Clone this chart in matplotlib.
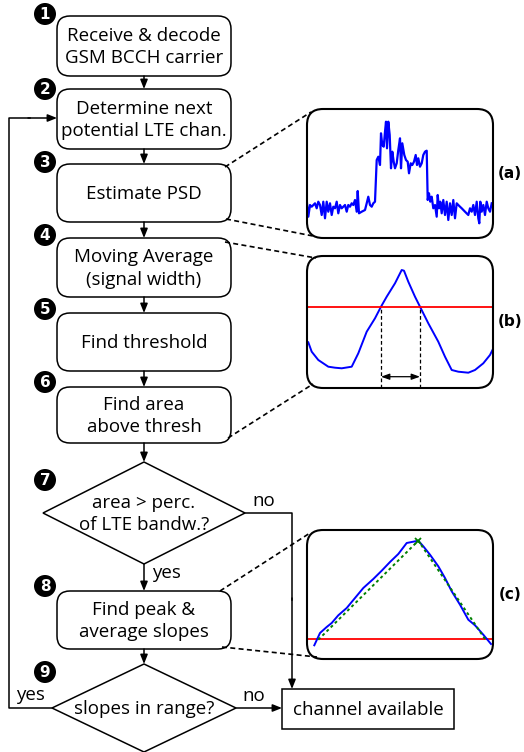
import matplotlib.pyplot as plt
from matplotlib.patches import FancyBboxPatch, Polygon, Rectangle, Circle

plt.rcParams['font.family'] = ['Open Sans', 'DejaVu Sans']

W, H = 524, 752

# flowchart steps
step_text = ["Receive & decode\nGSM BCCH carrier",
             "Determine next\npotential LTE chan.",
             "Estimate PSD",
             "Moving Average\n(signal width)",
             "Find threshold",
             "Find area\nabove thresh",
             "area > perc.\nof LTE bandw.?",
             "Find peak &\naverage slopes",
             "slopes in range?"]
step_kind = ["box", "box", "box", "box", "box", "box", "diamond", "box", "diamond"]
step_top = [16, 89, 164, 238, 313, 387, 462, 591, 664]
step_bottom = [76, 149, 222, 297, 371, 443, 564, 649, 752]
step_halfwidth = [87, 87, 87, 87, 87, 87, 101, 87, 92]
badge_y = [14, 89, 162, 235, 309, 382, 480, 586, 672]

# (a) PSD trace
psd_freq = [0, 1.3, 3, 4.7, 8, 9.7, 11.3, 13, 14.7, 16.3, 18, 19.7, 21.3, 23, 24.7,
            26.3, 28, 29.7, 31.3, 33, 34.7, 36.3, 38, 39.7, 41.3, 43, 44.7, 46.3, 48,
            49.7, 50.7, 52, 54.7, 58, 59.7, 61.3, 63, 64.7, 66.3, 68, 69.7, 71.3, 73,
            74, 75.3, 76.7, 78, 79, 80, 81.3, 82.7, 84, 85.3, 86.7, 88, 89.7, 91.3, 93,
            94, 95.3, 97.3, 99, 100.7, 102, 103.7, 105.3, 107, 108.7, 110, 111.3, 113,
            114.7, 116.3, 118, 119.7, 120.7, 122, 123.3, 124.7, 126.3, 128, 129.7,
            130.7, 132, 133.3, 134.7, 136.3, 138, 139.7, 141.3, 143, 144.7, 146.3, 148,
            149.7, 151.3, 153, 154.7, 158, 161.3, 163, 164.7, 166.3, 168, 169.7, 171.3,
            172.3, 173.3, 174.7, 176.3, 178, 179.7, 181.3, 183, 184.7]
psd_level = [34.7, 21.3, 33, 31.3, 34.7, 29.7, 36.3, 33, 23, 36.3, 19.7, 36.3, 26.3,
             34.7, 23, 31.3, 29.7, 36.3, 24.7, 33, 29.7, 31.3, 33, 26.3, 33, 31.3, 34.7,
             33, 38, 26.3, 47, 24.7, 26.3, 28, 34.7, 41.3, 33, 31.3, 34.7, 36.3, 78,
             81.3, 73, 104.7, 93, 91.3, 106.3, 116.3, 89.7, 116.3, 103, 69.7, 86.3,
             76.3, 69.7, 74.7, 88, 99.7, 69.7, 94.7, 83, 78, 76.3, 64.7, 74.7, 73, 76.3,
             83, 73, 79.7, 71.3, 74.7, 83, 86.3, 87.3, 38, 44.7, 36.3, 41.3, 29.7, 33,
             21.3, 43, 29.7, 36.3, 24.7, 38, 23, 36.3, 18, 34.7, 23, 38, 19.7, 34.7, 33,
             31.3, 29.7, 26.3, 23, 29.7, 26.3, 33, 23, 36.3, 19.7, 14.7, 36.3, 26.3, 33,
             23, 36.3, 29.7, 26.3, 34.7]

# (b) moving average with threshold crossing
ma_freq = [1.3, 4.7, 11.3, 21.3, 28, 34.7, 44.7, 51.3, 59.7, 68, 74, 79.7, 88, 94.7,
           97, 101.3, 108, 113, 121.3, 131.3, 138, 144.7, 151.3, 161.3, 168, 176.3,
           183, 186.3]
ma_level = [45.7, 36.3, 28, 21.3, 20.3, 19.7, 21.3, 34.7, 56.3, 69.7, 81.3, 91.3,
            104.7, 118, 117.3, 106.3, 91.3, 81.3, 64.7, 46.3, 31.3, 18, 16.3, 15.3, 18,
            24.7, 33, 39.7]
ma_thresh = 81.3
ma_edges = [74, 113]

# (c) peak and average slopes
pk_freq = [7.3, 13, 19.7, 24.7, 31.3, 39.7, 48, 56.3, 66.3, 74.7, 83, 91.3, 99.7,
           104.7, 111.3, 116.3, 123, 131.3, 138, 144.7, 153, 161.3, 168, 176.3, 184]
pk_level = [13.7, 26, 32, 36, 43.7, 51, 61, 71, 80, 88.3, 97, 105, 116, 117, 118.3,
            112.7, 104.3, 92.7, 81, 67.7, 54.3, 39.3, 33.7, 24.3, 15]
slope_freq = [11.3, 111.3, 178]
slope_level = [19.3, 118.3, 20]
pk_thresh = 20

fig = plt.figure(figsize=(W / 100, H / 100), dpi=100)
ax = fig.add_axes([0, 0, 1, 1])
ax.set_xlim(0, W)
ax.set_ylim(H, 0)
ax.axis('off')

cx = 144
lw = 1.1
fs = 13.5


def arrow(x0, y0, x1, y1):
    ax.annotate("", xy=(x1, y1), xytext=(x0, y0),
                arrowprops=dict(arrowstyle='-|>,head_length=0.55,head_width=0.22',
                                color='black', lw=lw, shrinkA=0, shrinkB=0))


for i, txt in enumerate(step_text):
    top, bot, hw = step_top[i], step_bottom[i], step_halfwidth[i]
    cy = (top + bot) / 2
    if step_kind[i] == "box":
        ax.add_patch(FancyBboxPatch((cx - hw, top), 2 * hw, bot - top,
                                    boxstyle="round,pad=0,rounding_size=13",
                                    fc='white', ec='black', lw=lw))
    else:
        ax.add_patch(Polygon([(cx, top), (cx + hw, cy), (cx, bot), (cx - hw, cy)],
                             closed=True, fc='white', ec='black', lw=lw))
    ax.text(cx, cy + 1, txt, ha='center', va='center', fontsize=fs, linespacing=1.3)
    ax.add_patch(Circle((45, badge_y[i]), 11, fc='black', ec='none', zorder=4))
    ax.text(45, badge_y[i] + 0.5, str(i + 1), ha='center', va='center', color='white',
            fontsize=11, fontweight='bold', family='DejaVu Sans', zorder=5)
    if i < len(step_text) - 1:
        arrow(cx, bot, cx, step_top[i + 1])

# decision branches
ax.text(152, 573, "yes", ha='left', va='center', fontsize=fs)
d7_y = (step_top[6] + step_bottom[6]) / 2
ax.plot([cx + step_halfwidth[6], 292, 292], [d7_y, d7_y, 600], color='black', lw=lw)
arrow(292, 598, 292, 689)
ax.text(264, 501, "no", ha='center', va='center', fontsize=fs)

d9_y = (step_top[8] + step_bottom[8]) / 2
arrow(cx + step_halfwidth[8], d9_y, 282, d9_y)
ax.text(254, 696, "no", ha='center', va='center', fontsize=fs)
ax.plot([cx - step_halfwidth[8], 9, 9, 30], [d9_y, d9_y, 118, 118], color='black', lw=lw)
arrow(28, 118, cx - 87, 118)
ax.text(30, 695, "yes", ha='center', va='center', fontsize=fs)

ax.add_patch(Rectangle((282, 689), 172, 40, fc='white', ec='black', lw=lw))
ax.text(368, 710, "channel available", ha='center', va='center', fontsize=fs)

# dashed leaders from steps to the insets
leaders = [((225, 167), (311, 112)), ((226, 219), (313, 236)),
           ((225, 242), (316, 258)), ((228, 438), (313, 384)),
           ((220, 591), (310, 533)), ((222, 647), (317, 657))]
for (x0, y0), (x1, y1) in leaders:
    ax.plot([x0, x1], [y0, y1], color='black', lw=1.2, ls=(0, (3, 2)))

# insets
inset_x0, inset_x1 = 307, 493
inset_rows = [(109, 238, "(a)"), (256, 388, "(b)"), (530, 659, "(c)")]
insets = []
for y0, y1, lab in inset_rows:
    ia = fig.add_axes([inset_x0 / W, 1 - y1 / H, (inset_x1 - inset_x0) / W, (y1 - y0) / H])
    ia.set_xlim(0, inset_x1 - inset_x0)
    ia.set_ylim(0, y1 - y0)
    ia.axis('off')
    frame = FancyBboxPatch((inset_x0, y0), inset_x1 - inset_x0, y1 - y0,
                           boxstyle="round,pad=0,rounding_size=16",
                           fc='none', ec='black', lw=1.5, transform=ax.transData,
                           clip_on=False, zorder=6)
    ia.add_artist(frame)
    frame.set_clip_on(False)
    ax.text(510, (y0 + y1) / 2, lab, ha='center', va='center', fontsize=11,
            fontweight='bold', family='DejaVu Sans')
    insets.append((ia, frame))

ia, frame = insets[0]
ln, = ia.plot(psd_freq, psd_level, color='blue', lw=1.6)
ln.set_clip_path(frame)

ia, frame = insets[1]
ln, = ia.plot(ma_freq, ma_level, color='blue', lw=1.4)
ln.set_clip_path(frame)
th = ia.axhline(ma_thresh, color='red', lw=1.3)
th.set_clip_path(frame)
for e in ma_edges:
    ia.plot([e, e], [0, ma_thresh], color='black', lw=0.9, ls=(0, (3, 2)))
ia.annotate("", xy=(ma_edges[1], 11.3), xytext=(ma_edges[0], 11.3),
            arrowprops=dict(arrowstyle='<|-|>,head_length=0.5,head_width=0.18',
                            color='black', lw=0.9, shrinkA=0, shrinkB=0))

ia, frame = insets[2]
th = ia.axhline(pk_thresh, color='red', lw=1.3)
th.set_clip_path(frame)
ln, = ia.plot(pk_freq, pk_level, color='blue', lw=1.4)
ln.set_clip_path(frame)
ia.plot(slope_freq, slope_level, color='green', lw=1.4, ls=(0, (1.5, 1.5)))
ia.plot([slope_freq[1]], [slope_level[1]], marker='x', color='green', ms=5, mew=1.3)

fig.savefig('out.png', dpi=100)
